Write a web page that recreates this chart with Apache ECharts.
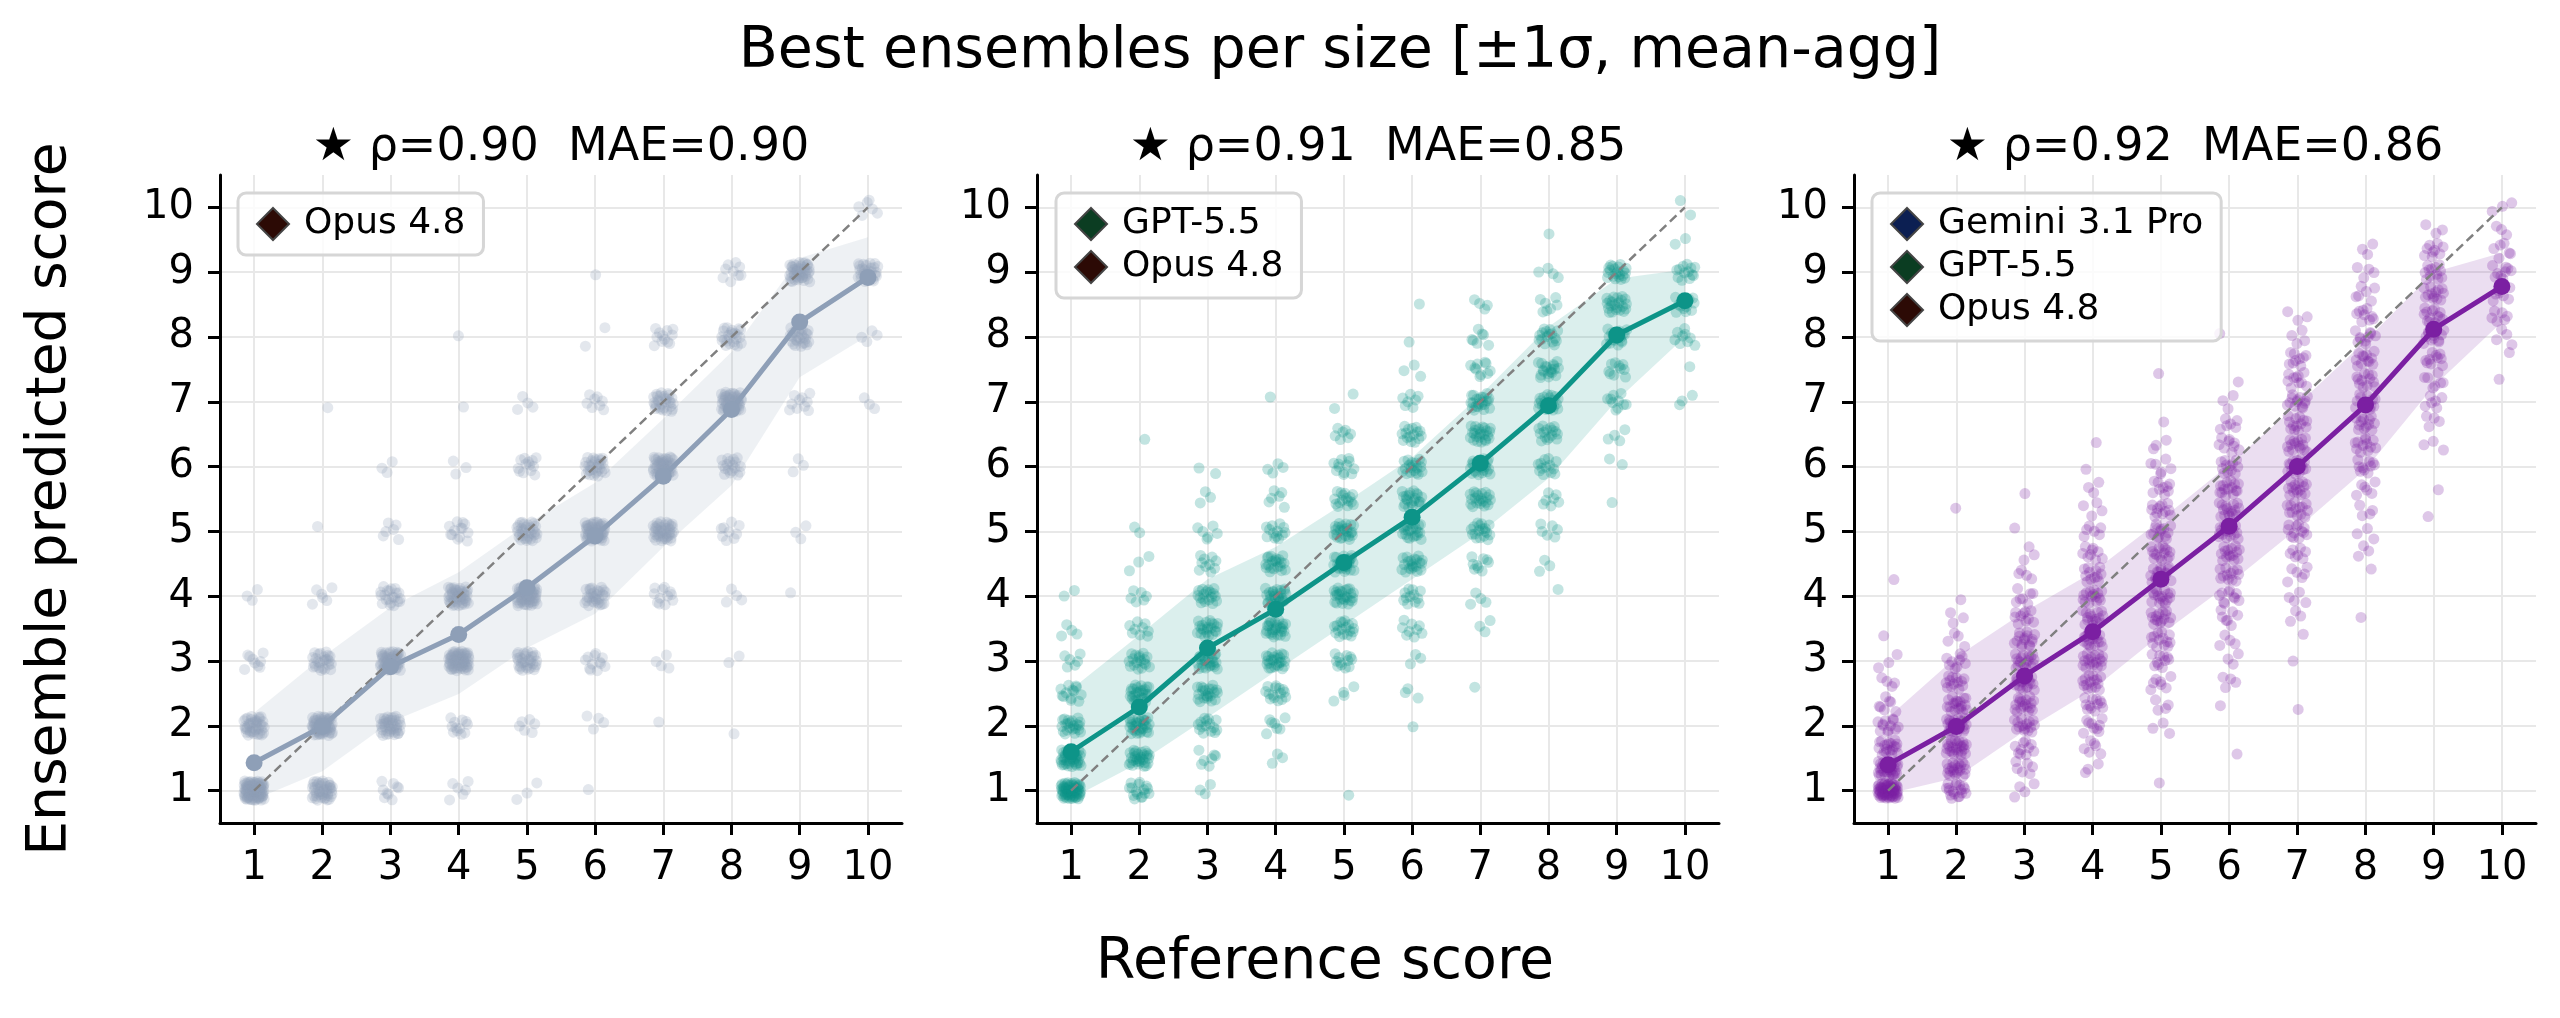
<!DOCTYPE html>
<html>
<head>
<meta charset="utf-8">
<title>Best ensembles per size</title>
<script src="https://cdn.jsdelivr.net/npm/echarts@6/dist/echarts.min.js"></script>
<style>
    html, body { margin: 0; padding: 0; background: #fff; }
    #chart { width: 2560px; height: 1018px; }
</style>
</head>
<body>
<div id="chart"></div>
<script>
// ---- data ----
var refScores = [1, 2, 3, 4, 5, 6, 7, 8, 9, 10];
var tickValues = [1, 2, 3, 4, 5, 6, 7, 8, 9, 10];

var mainTitle = 'Best ensembles per size [±1σ, mean-agg]';
var xName = 'Reference score';
var yName = 'Ensemble predicted score';
var panelTitles = ['★ ρ=0.90  MAE=0.90', '★ ρ=0.91  MAE=0.85', '★ ρ=0.92  MAE=0.86'];

var memberNames = ['Gemini 3.1 Pro', 'GPT-5.5', 'Opus 4.8'];
var memberColors = ['#0c1f52', '#0b3d22', '#2c0a05'];
var panelMembers = [['Opus 4.8'], ['GPT-5.5', 'Opus 4.8'], ['Gemini 3.1 Pro', 'GPT-5.5', 'Opus 4.8']];
var panelColors = ['#8e9fb7', '#0d9488', '#7b1fa2'];

// mean of ensemble prediction per reference score, and the ±1σ band
var meanP1 = [1.43, 1.99, 2.91, 3.41, 4.13, 4.93, 5.85, 6.88, 8.23, 8.92];
var hiP1 = [2.20, 3.06, 3.83, 4.37, 5.11, 5.75, 6.74, 7.77, 9.22, 9.54];
var loP1 = [0.86, 1.30, 2.06, 2.49, 3.20, 3.73, 4.76, 5.71, 7.38, 8.02];

var meanP2 = [1.60, 2.29, 3.20, 3.80, 4.52, 5.22, 6.05, 6.94, 8.03, 8.56];
var hiP2 = [2.56, 3.40, 4.26, 4.76, 5.43, 6.14, 7.10, 8.16, 8.90, 9.04];
var loP2 = [0.88, 1.43, 2.13, 2.84, 3.55, 4.26, 4.97, 5.82, 7.02, 8.00];

var meanP3 = [1.40, 1.99, 2.77, 3.45, 4.26, 5.08, 6.00, 6.95, 8.12, 8.78];
var hiP3 = [2.13, 3.06, 3.76, 4.37, 5.18, 6.03, 6.95, 7.94, 9.00, 9.30];
var loP3 = [0.95, 1.20, 1.92, 2.56, 3.41, 4.19, 5.04, 5.96, 7.24, 8.23];

// how many items sit on each predicted level, one row per reference score.
// levels start at 1: panel 1 steps by 1, panel 2 by 1/2, panel 3 by 1/3
var countsP1 = [
    [98, 40, 9, 3],
    [45, 63, 25, 6, 1, 0, 1],
    [9, 42, 54, 21, 6, 3],
    [6, 12, 67, 45, 13, 3, 1, 1],
    [3, 6, 33, 57, 33, 13, 4],
    [1, 4, 12, 30, 54, 30, 8, 2, 1],
    [0, 1, 4, 12, 42, 50, 30, 12],
    [0, 1, 2, 4, 9, 18, 52, 24, 9],
    [0, 0, 0, 1, 3, 3, 10, 27, 45],
    [0, 0, 0, 0, 0, 0, 3, 4, 28, 6]
];
var countsP2 = [
    [60, 42, 22, 13, 6, 4, 2],
    [16, 30, 30, 27, 18, 9, 6, 3, 2, 0, 0, 1],
    [3, 7, 15, 22, 25, 22, 18, 10, 6, 3, 2],
    [0, 3, 7, 15, 24, 27, 27, 21, 13, 6, 4, 0, 1],
    [1, 0, 0, 4, 12, 18, 25, 27, 24, 16, 12, 7, 2],
    [0, 0, 1, 3, 3, 9, 12, 21, 22, 21, 19, 16, 7, 3, 1, 1],
    [0, 0, 0, 1, 0, 3, 4, 9, 18, 21, 24, 24, 22, 10, 7, 4],
    [0, 0, 0, 0, 0, 0, 1, 3, 6, 7, 13, 16, 22, 19, 16, 7, 4, 1],
    [0, 0, 0, 0, 0, 0, 0, 0, 0, 1, 2, 4, 10, 10, 18, 22, 21],
    [0, 0, 0, 0, 0, 0, 0, 0, 0, 0, 0, 0, 3, 1, 9, 12, 13, 2, 2]
];
var countsP3 = [
    [67, 33, 19, 12, 7, 4, 3, 1, 0, 0, 1],
    [18, 21, 25, 25, 19, 13, 9, 4, 3, 1, 0, 0, 0, 1],
    [4, 6, 10, 15, 18, 19, 18, 15, 10, 7, 4, 3, 1, 0, 1],
    [0, 3, 6, 9, 12, 15, 18, 18, 16, 15, 12, 9, 6, 4, 3, 1, 1],
    [1, 0, 0, 3, 4, 7, 10, 13, 15, 16, 16, 15, 13, 12, 9, 6, 3, 1, 0, 1],
    [0, 0, 1, 0, 1, 4, 3, 4, 7, 10, 12, 15, 18, 16, 15, 12, 9, 6, 3, 1, 0, 1],
    [0, 0, 0, 0, 1, 0, 1, 1, 3, 4, 6, 7, 12, 13, 15, 15, 15, 13, 13, 10, 9, 4, 3],
    [0, 0, 0, 0, 0, 0, 0, 0, 1, 0, 1, 3, 3, 4, 6, 10, 12, 13, 13, 12, 12, 10, 9, 6, 4, 3],
    [0, 0, 0, 0, 0, 0, 0, 0, 0, 0, 0, 0, 0, 1, 1, 0, 3, 4, 6, 7, 10, 12, 13, 13, 12, 9, 3],
    [0, 0, 0, 0, 0, 0, 0, 0, 0, 0, 0, 0, 0, 0, 0, 0, 0, 0, 0, 1, 1, 4, 6, 7, 9, 6, 3, 3]
];

// ---- layout ----
var gridLefts = [220, 1037, 1854];
var gridTop = 175, gridWidth = 682, gridHeight = 648;
var legendLefts = [238, 1056, 1872];
var font = 'DejaVu Sans';

// halton sequence, only used to spread overlapping items inside their cell (strip plot jitter)
function halton(i, b) {
    var f = 1, r = 0;
    while (i > 0) {
        f = f / b;
        r += f * (i % b);
        i = Math.floor(i / b);
    }
    return r;
}

function stripPoints(counts, step, jx, jy) {
    var pts = [], k = 0;
    counts.forEach(function (row, xi) {
        row.forEach(function (n, li) {
            for (var j = 0; j < n; j++) {
                k++;
                pts.push([refScores[xi] + (halton(k, 2) - 0.5) * 2 * jx,
                    1 + li * step + (halton(k, 3) - 0.5) * 2 * jy]);
            }
        });
    });
    return pts;
}

function zip(xs, ys) {
    return xs.map(function (x, i) { return [x, ys[i]]; });
}

var panels = [
    {mean: meanP1, hi: hiP1, lo: loP1, pts: stripPoints(countsP1, 1, 0.15, 0.15)},
    {mean: meanP2, hi: hiP2, lo: loP2, pts: stripPoints(countsP2, 1 / 2, 0.15, 0.13)},
    {mean: meanP3, hi: hiP3, lo: loP3, pts: stripPoints(countsP3, 1 / 3, 0.15, 0.12)}
];

var grids = [], xAxes = [], yAxes = [], series = [], legends = [], texts = [];

panels.forEach(function (pn, p) {
    var color = panelColors[p];
    grids.push({left: gridLefts[p], top: gridTop, width: gridWidth, height: gridHeight});

    var axisCommon = {
        type: 'value', gridIndex: p, min: 0.5, max: 10.5,
        axisLine: {show: true, onZero: false, lineStyle: {color: '#000', width: 3}},
        axisTick: {show: true, length: 12, customValues: tickValues, lineStyle: {color: '#000', width: 3}},
        axisLabel: {customValues: tickValues, fontSize: 40, color: '#000', fontFamily: font, margin: 26},
        splitLine: {show: true, lineStyle: {color: '#e8e8e8', width: 2}}
    };
    xAxes.push(echarts.util.merge({}, axisCommon, true));
    yAxes.push(echarts.util.merge({}, axisCommon, true));

    // ±1σ band as one polygon: hi edge left to right, lo edge back
    series.push({
        type: 'custom', xAxisIndex: p, yAxisIndex: p, silent: true, z: 1,
        data: [[refScores[0], pn.lo[0]]],
        renderItem: function (params, api) {
            var poly = [];
            refScores.forEach(function (x, i) { poly.push(api.coord([x, pn.hi[i]])); });
            for (var i = refScores.length - 1; i >= 0; i--) {
                poly.push(api.coord([refScores[i], pn.lo[i]]));
            }
            return {type: 'polygon', shape: {points: poly}, style: {fill: color, opacity: 0.15}};
        }
    });
    series.push({
        type: 'scatter', xAxisIndex: p, yAxisIndex: p, silent: true, z: 2,
        data: pn.pts, symbolSize: 11, itemStyle: {color: color, opacity: 0.25}
    });
    // y = x reference
    series.push({
        type: 'line', xAxisIndex: p, yAxisIndex: p, silent: true, z: 3,
        data: [[1, 1], [10, 10]], symbol: 'none',
        lineStyle: {color: '#808080', width: 2.5, type: [9, 5]}
    });
    series.push({
        type: 'line', xAxisIndex: p, yAxisIndex: p, silent: true, z: 4,
        data: zip(refScores, pn.mean), symbol: 'circle', symbolSize: 17,
        lineStyle: {color: color, width: 5}, itemStyle: {color: color, opacity: 1}
    });

    legends.push({
        left: legendLefts[p], top: 193, orient: 'vertical', selectedMode: false,
        padding: [13, 18, 13, 18], itemGap: 7, itemWidth: 32, itemHeight: 32,
        backgroundColor: 'rgba(255,255,255,0.8)', borderColor: '#d6d6d6', borderWidth: 3, borderRadius: 8,
        textStyle: {fontFamily: font, fontSize: 36, color: '#000', padding: [0, 0, 0, 10]},
        data: panelMembers[p].map(function (n) {
            return {
                name: n, icon: 'diamond',
                itemStyle: {color: memberColors[memberNames.indexOf(n)], opacity: 1, borderColor: '#444', borderWidth: 2}
            };
        })
    });

    texts.push({
        type: 'text', x: gridLefts[p] + gridWidth / 2, y: 148, silent: true,
        style: {text: panelTitles[p], fontFamily: font, fontSize: 46, fill: '#000', align: 'center', verticalAlign: 'middle'}
    });
});

// legend entries need a series behind them
memberNames.forEach(function (n, i) {
    series.push({
        type: 'scatter', name: n, xAxisIndex: 0, yAxisIndex: 0, data: [],
        itemStyle: {color: memberColors[i], opacity: 1}
    });
});

texts.push({
    type: 'text', x: 1340, y: 52, silent: true,
    style: {text: mainTitle, fontFamily: font, fontSize: 57, fill: '#000', align: 'center', verticalAlign: 'middle'}
});
texts.push({
    type: 'text', x: 1325, y: 963, silent: true,
    style: {text: xName, fontFamily: font, fontSize: 57, fill: '#000', align: 'center', verticalAlign: 'middle'}
});
texts.push({
    type: 'text', x: 51, y: 499, rotation: Math.PI / 2, silent: true,
    style: {text: yName, fontFamily: font, fontSize: 55, fill: '#000', align: 'center', verticalAlign: 'middle'}
});

var chart = echarts.init(document.getElementById('chart'));
chart.setOption({
    backgroundColor: '#fff',
    animation: false,
    textStyle: {fontFamily: font},
    grid: grids,
    xAxis: xAxes,
    yAxis: yAxes,
    legend: legends,
    series: series,
    graphic: texts
});
</script>
</body>
</html>
